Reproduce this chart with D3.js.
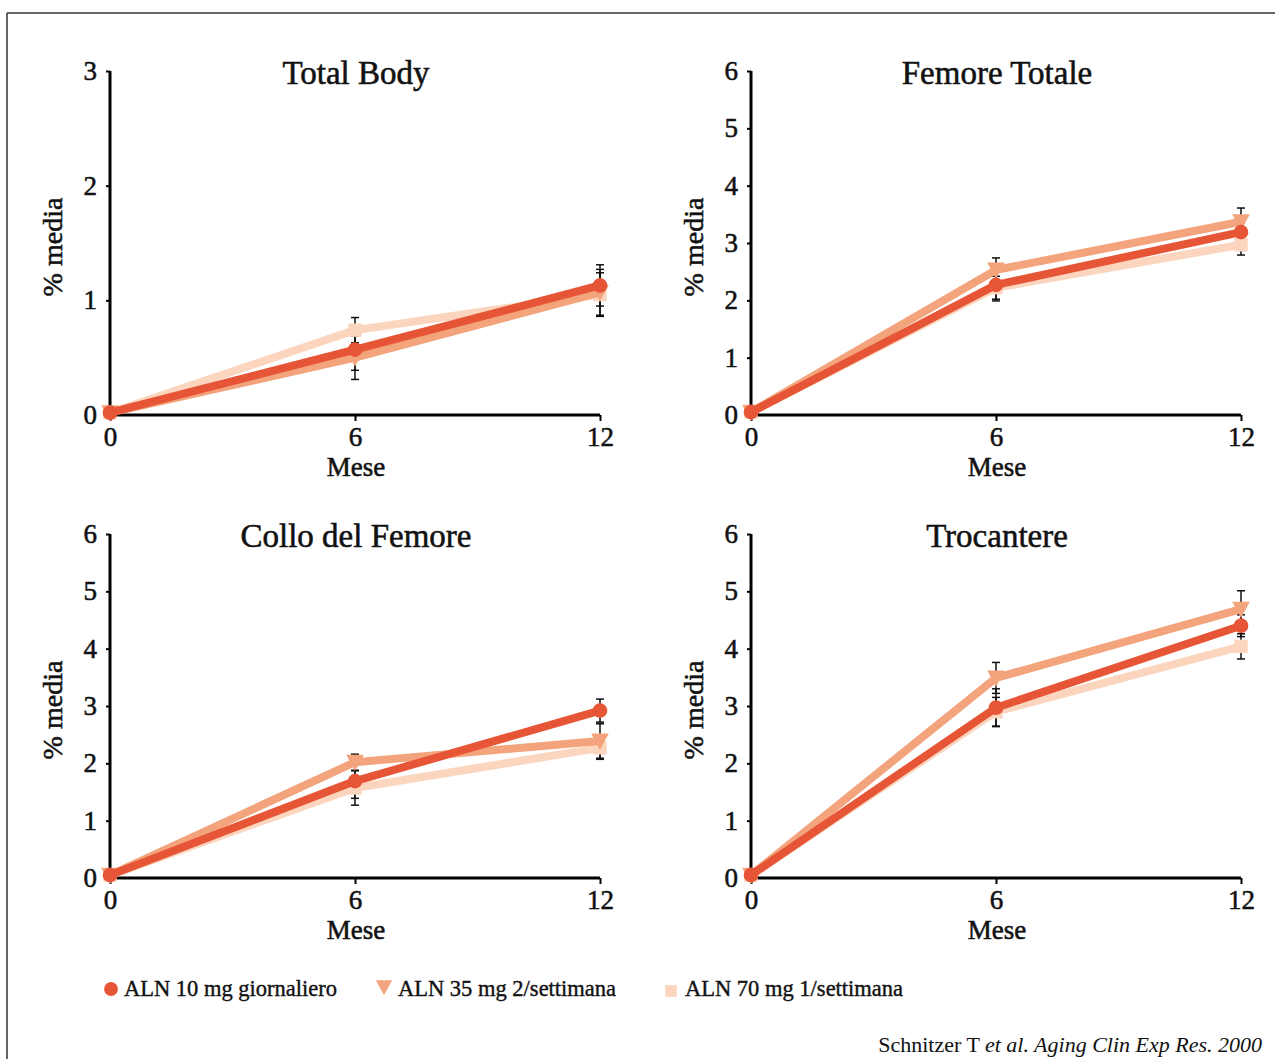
<!DOCTYPE html>
<html>
<head>
<meta charset="utf-8">
<script src="https://cdn.jsdelivr.net/npm/d3@7"></script>
<style>
  html, body { margin: 0; padding: 0; background: #fff; }
  svg { display: block; }
  text { font-family: "Liberation Serif", "Times New Roman", serif; fill: #111; }
  .heavy { stroke: #111; stroke-width: 0.55; paint-order: stroke; }
</style>
</head>
<body>
<svg id="chart" width="1275" height="1059"></svg>
<script>
// ---------- data ----------
const months = [0, 6, 12];
const seriesNames = ["ALN 10 mg giornaliero", "ALN 35 mg 2/settimana", "ALN 70 mg 1/settimana"];
const seriesColors = ["#E65636", "#F3A47C", "#FBD5BD"];
const panelTitles = ["Total Body", "Femore Totale", "Collo del Femore", "Trocantere"];
const panelYMax = [3, 6, 6, 6];

// values per panel: [ALN10, ALN35, ALN70]
const totalBody10 = [0.02, 0.57, 1.13];
const totalBody35 = [0.02, 0.50, 1.07];
const totalBody70 = [0.02, 0.74, 1.05];
const totalBodyErr10 = [0, 0.18, 0.18];
const totalBodyErr35 = [0, 0.19, 0.20];
const totalBodyErr70 = [0, 0.11, 0.19];

const femoreTot10 = [0.05, 2.27, 3.19];
const femoreTot35 = [0.05, 2.53, 3.37];
const femoreTot70 = [0.05, 2.22, 2.97];
const femoreTotErr10 = [0, 0.28, 0.17];
const femoreTotErr35 = [0, 0.21, 0.24];
const femoreTotErr70 = [0, 0.20, 0.18];

const collo10 = [0.05, 1.69, 2.92];
const collo35 = [0.05, 2.02, 2.39];
const collo70 = [0.05, 1.57, 2.27];
const colloErr10 = [0, 0.30, 0.20];
const colloErr35 = [0, 0.14, 0.30];
const colloErr70 = [0, 0.30, 0.20];

const trocantere10 = [0.05, 2.97, 4.40];
const trocantere35 = [0.05, 3.49, 4.69];
const trocantere70 = [0.05, 2.90, 4.04];
const trocantereErr10 = [0, 0.33, 0.19];
const trocantereErr35 = [0, 0.27, 0.32];
const trocantereErr70 = [0, 0.25, 0.22];

const panelValues = [
  [totalBody10, totalBody35, totalBody70],
  [femoreTot10, femoreTot35, femoreTot70],
  [collo10, collo35, collo70],
  [trocantere10, trocantere35, trocantere70]
];
const panelErrors = [
  [totalBodyErr10, totalBodyErr35, totalBodyErr70],
  [femoreTotErr10, femoreTotErr35, femoreTotErr70],
  [colloErr10, colloErr35, colloErr70],
  [trocantereErr10, trocantereErr35, trocantereErr70]
];
const xTickLabels = ["0", "6", "12"];
const xLabel = "Mese";
const yLabel = "% media";
const citationNormal = "Schnitzer T ";
const citationItalic = "et al. Aging Clin Exp Res. 2000";

// ---------- layout ----------
const svg = d3.select("#chart");
const panelPos = [
  {x0: 110, x1: 600, yTop: 71, yBot: 415},
  {x0: 751, x1: 1241, yTop: 71, yBot: 415},
  {x0: 110, x1: 600, yTop: 534, yBot: 878},
  {x0: 751, x1: 1241, yTop: 534, yBot: 878}
];

// frame
svg.append("line").attr("x1", 7).attr("y1", 13).attr("x2", 1275).attr("y2", 13)
  .attr("stroke", "#333").attr("stroke-width", 1.5);
svg.append("line").attr("x1", 7).attr("y1", 13).attr("x2", 7).attr("y2", 1059)
  .attr("stroke", "#333").attr("stroke-width", 1.5);

function markerPath(i, size) {
  if (i === 0) return d3.symbol().type(d3.symbolCircle).size(size)();
  if (i === 2) return d3.symbol().type(d3.symbolSquare).size(size * 0.9)();
  // downward triangle
  const s = Math.sqrt(size) * 1.25;
  return `M${-s/2},${-s*0.42}L${s/2},${-s*0.42}L0,${s*0.5}Z`;
}

panelPos.forEach((p, pi) => {
  const g = svg.append("g");
  const x = d3.scaleLinear().domain([0, 12]).range([p.x0, p.x1]);
  const y = d3.scaleLinear().domain([0, panelYMax[pi]]).range([p.yBot, p.yTop]);

  // axes
  const xAxis = d3.axisBottom(x).tickValues(months).tickFormat((d, i) => xTickLabels[i])
    .tickSize(6).tickSizeOuter(0).tickPadding(6);
  const yAxis = d3.axisLeft(y).ticks(panelYMax[pi]).tickFormat(d3.format("d"))
    .tickSize(4).tickSizeOuter(0).tickPadding(9);

  const gx = g.append("g").attr("transform", `translate(0,${p.yBot})`).call(xAxis);
  const gy = g.append("g").attr("transform", `translate(${p.x0},0)`).call(yAxis);
  [gx, gy].forEach(ax => {
    ax.select(".domain").attr("stroke", "#000").attr("stroke-width", 3);
    ax.selectAll(".tick line").attr("stroke", "#000").attr("stroke-width", 2);
    ax.selectAll(".tick text").attr("font-family", "Liberation Serif, serif")
      .attr("font-size", 27).attr("fill", "#111").attr("class", "heavy");
  });
  gx.select(".domain").attr("d", `M${p.x0 - 1.5},0H${p.x1}`);
  gy.select(".domain").attr("d", `M0,${p.yTop}V${p.yBot + 1.5}`);

  // title
  g.append("text").attr("class", "heavy").attr("x", (p.x0 + p.x1) / 2 + 1).attr("y", p.yTop + 13)
    .attr("text-anchor", "middle").attr("font-size", 33).text(panelTitles[pi]);
  // x label
  g.append("text").attr("class", "heavy").attr("x", (p.x0 + p.x1) / 2 + 1).attr("y", p.yBot + 61)
    .attr("text-anchor", "middle").attr("font-size", 27).text(xLabel);
  // y label
  g.append("text").attr("class", "heavy")
    .attr("transform", `translate(${p.x0 - 48},${(p.yTop + p.yBot) / 2 + 4}) rotate(-90)`)
    .attr("text-anchor", "middle").attr("font-size", 28).text(yLabel);

  // error bars
  const order = [2, 1, 0];
  order.forEach(si => {
    const vals = panelValues[pi][si];
    const errs = panelErrors[pi][si];
    months.forEach((m, mi) => {
      if (!errs[mi]) return;
      const xc = x(m), yt = y(vals[mi] + errs[mi]), yb = y(vals[mi] - errs[mi]);
      g.append("line").attr("x1", xc).attr("x2", xc).attr("y1", yt).attr("y2", yb)
        .attr("stroke", "#111").attr("stroke-width", 1.5);
      [yt, yb].forEach(yy => g.append("line").attr("x1", xc - 4).attr("x2", xc + 4)
        .attr("y1", yy).attr("y2", yy).attr("stroke", "#111").attr("stroke-width", 1.5));
    });
  });

  // lines & markers
  const line = d3.line().x((d, i) => x(months[i])).y(d => y(d));
  order.forEach(si => {
    const vals = panelValues[pi][si];
    g.append("path").attr("d", line(vals)).attr("fill", "none")
      .attr("stroke", seriesColors[si]).attr("stroke-width", 8)
      .attr("stroke-linejoin", "round");
    vals.forEach((v, mi) => {
      g.append("path").attr("d", markerPath(si, si === 0 ? 170 : 200))
        .attr("transform", `translate(${x(months[mi])},${y(v)})`)
        .attr("fill", seriesColors[si]);
    });
  });
});

// legend
const legendX = [111, 384, 671];
const legendTextX = [124, 398, 685];
const legendY = 989;
seriesNames.forEach((name, si) => {
  svg.append("path").attr("d", markerPath(si, si === 1 ? 170 : 150))
    .attr("transform", `translate(${legendX[si]},${si === 1 ? legendY - 2 : (si === 2 ? legendY + 2 : legendY)})`)
    .attr("fill", seriesColors[si]);
  svg.append("text").attr("class", "heavy").attr("x", legendTextX[si]).attr("y", legendY + 7)
    .attr("font-size", 22.5).attr("style", "stroke-width:0.4").text(name);
});

// citation
const cit = svg.append("text").attr("x", 1262).attr("y", 1052)
  .attr("text-anchor", "end").attr("font-size", 22);
cit.append("tspan").text(citationNormal);
cit.append("tspan").attr("font-style", "italic").text(citationItalic);
</script>
</body>
</html>
